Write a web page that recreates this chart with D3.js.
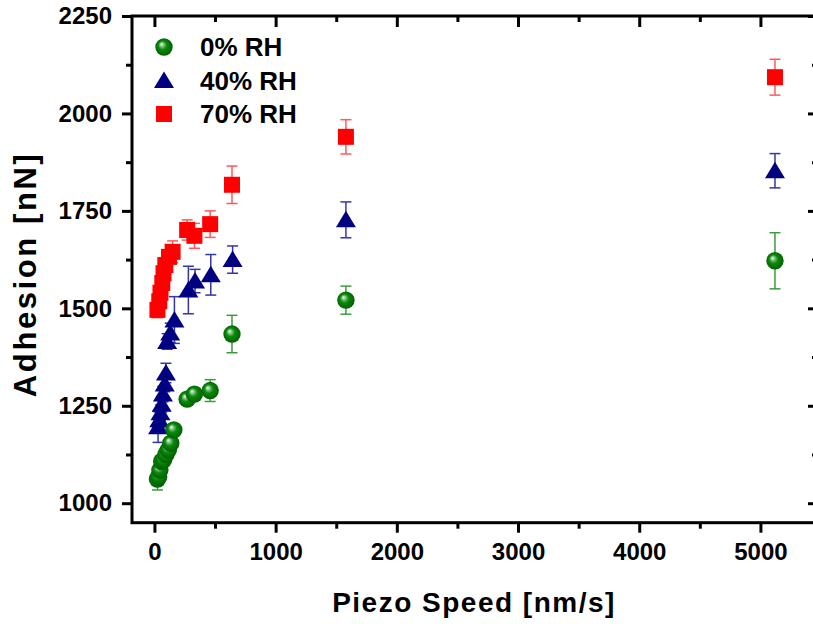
<!DOCTYPE html>
<html>
<head>
<meta charset="utf-8">
<script src="https://cdn.jsdelivr.net/npm/d3@7"></script>
<style>
    html, body { margin: 0; padding: 0; background: #fff; }
    svg { display: block; font-family: 'Liberation Sans', Arial, sans-serif; }
</style>
</head>
<body>
<svg id="chart" width="813" height="624"></svg>
<script>
// 0% RH
const speed0 = [25, 35, 45, 60, 75, 95, 115, 135, 160, 270, 330, 460, 640, 1580, 5120]
const adhesion0 = [1062, 1068, 1085, 1107, 1111, 1125, 1137, 1154, 1188, 1267, 1280, 1289, 1434, 1521, 1622]
const error0 = [28, 15, 15, 15, 15, 15, 15, 15, 15, 15, 15, 28, 48, 36, 72]

// 40% RH
const speed40 = [30, 40, 50, 60, 70, 85, 95, 105, 130, 165, 280, 335, 465, 645, 1580, 5120]
const adhesion40 = [1196, 1214, 1232, 1254, 1280, 1306, 1334, 1415, 1437, 1470, 1547, 1570, 1586, 1625, 1727, 1853]
const error40 = [40, 20, 20, 20, 20, 20, 25, 20, 25, 60, 61, 30, 52, 35, 46, 44]

// 70% RH
const speed70 = [25, 40, 50, 65, 75, 90, 120, 150, 270, 330, 460, 640, 1580, 5120]
const adhesion70 = [1496, 1518, 1540, 1565, 1590, 1611, 1632, 1645, 1701, 1686, 1716, 1817, 1940, 2093]
const error70 = [20, 15, 15, 15, 15, 15, 18, 28, 26, 32, 34, 48, 44, 46]

const legendLabels = ['0% RH', '40% RH', '70% RH']
const xTicks = [0, 1000, 2000, 3000, 4000, 5000]
const xMinor = [500, 1500, 2500, 3500, 4500]
const yTicks = [1000, 1250, 1500, 1750, 2000, 2250]
const yMinor = [1125, 1375, 1625, 1875, 2125]

let chart = {}
chart.svg = d3.select('#chart')
chart.left = 132
chart.right = 818
chart.top = 16
chart.bottom = 522.7

chart.x = d3.scaleLinear().domain([-185, 5475]).range([chart.left, chart.right])
chart.y = d3.scaleLinear().domain([950, 2250]).range([chart.bottom, chart.top])

const series = [
    {name: legendLabels[0], speed: speed0, value: adhesion0, err: error0, shape: 'sphere', fill: 'url(#sphere)', bar: '#3c9c3c'},
    {name: legendLabels[1], speed: speed40, value: adhesion40, err: error40, shape: 'triangle', fill: '#000080', bar: '#3535a5'},
    {name: legendLabels[2], speed: speed70, value: adhesion70, err: error70, shape: 'square', fill: '#ff0000', bar: '#ff5a5a'}
]

// gradient for the ball markers
let defs = chart.svg.append('defs')
let grad = defs.append('radialGradient').attr('id', 'sphere')
    .attr('cx', '50%').attr('cy', '50%').attr('r', '55%')
    .attr('fx', '35%').attr('fy', '33%')
grad.append('stop').attr('offset', '0%').attr('stop-color', '#ffffff')
grad.append('stop').attr('offset', '18%').attr('stop-color', '#8cc88c')
grad.append('stop').attr('offset', '45%').attr('stop-color', '#0a8a0a')
grad.append('stop').attr('offset', '100%').attr('stop-color', '#005a00')

function drawMarker(g, shape, fill, cx, cy) {
    if (shape === 'sphere') {
        g.append('circle').attr('cx', cx).attr('cy', cy).attr('r', 8.7).attr('fill', fill)
    } else if (shape === 'triangle') {
        g.append('path')
            .attr('d', `M${cx},${cy - 9}L${cx + 10},${cy + 7.5}L${cx - 10},${cy + 7.5}Z`)
            .attr('fill', fill)
    } else {
        g.append('rect').attr('x', cx - 8).attr('y', cy - 8).attr('width', 16).attr('height', 16)
            .attr('fill', fill)
    }
}

// axes
function styleAxis(g) {
    g.select('.domain').remove()
    g.selectAll('line').attr('stroke', '#000').attr('stroke-width', 3)
    g.selectAll('text').attr('fill', '#000').attr('font-size', 24).attr('font-weight', 'bold')
}

chart.svg.append('g').attr('transform', `translate(0,${chart.bottom})`)
    .call(d3.axisBottom(chart.x).tickValues(xTicks).tickSize(10).tickPadding(10).tickFormat(d3.format('d')))
    .call(styleAxis)
chart.svg.append('g').attr('transform', `translate(0,${chart.bottom})`)
    .call(d3.axisBottom(chart.x).tickValues(xMinor).tickSize(6).tickFormat(''))
    .call(styleAxis)
chart.svg.append('g').attr('transform', `translate(${chart.left},0)`)
    .call(d3.axisLeft(chart.y).tickValues(yTicks).tickSize(10).tickPadding(10).tickFormat(d3.format('d')))
    .call(styleAxis)
chart.svg.append('g').attr('transform', `translate(${chart.left},0)`)
    .call(d3.axisLeft(chart.y).tickValues(yMinor).tickSize(6).tickFormat(''))
    .call(styleAxis)
// mirrored ticks, pointing inwards
chart.svg.append('g').attr('transform', `translate(0,${chart.top})`)
    .call(d3.axisTop(chart.x).tickValues(xTicks).tickSize(-11).tickFormat(''))
    .call(styleAxis)
chart.svg.append('g').attr('transform', `translate(0,${chart.top})`)
    .call(d3.axisTop(chart.x).tickValues(xMinor).tickSize(-6).tickFormat(''))
    .call(styleAxis)
chart.svg.append('g').attr('transform', `translate(${chart.right},0)`)
    .call(d3.axisRight(chart.y).tickValues(yTicks).tickSize(-10).tickFormat(''))
    .call(styleAxis)
chart.svg.append('g').attr('transform', `translate(${chart.right},0)`)
    .call(d3.axisRight(chart.y).tickValues(yMinor).tickSize(-6).tickFormat(''))
    .call(styleAxis)

chart.svg.append('rect')
    .attr('x', chart.left).attr('y', chart.top)
    .attr('width', chart.right - chart.left).attr('height', chart.bottom - chart.top)
    .attr('fill', 'none').attr('stroke', '#000').attr('stroke-width', 3)

// titles
chart.svg.append('text')
    .attr('x', (chart.left + chart.right) / 2 - 1).attr('y', 612)
    .attr('text-anchor', 'middle').attr('font-size', 28).attr('font-weight', 'bold')
    .attr('letter-spacing', 1.5)
    .text('Piezo Speed [nm/s]')
chart.svg.append('text')
    .attr('transform', `translate(36,${(chart.top + chart.bottom) / 2 + 5}) rotate(-90)`)
    .attr('text-anchor', 'middle').attr('font-size', 31).attr('font-weight', 'bold')
    .attr('letter-spacing', 2.6)
    .text('Adhesion [nN]')

// data, drawn back to front: 70%, 40%, 0%
let plot = chart.svg.append('g')
for (let s of series.slice().reverse()) {
    let g = plot.append('g')
    for (let i = 0; i < s.speed.length; i++) {
        const cx = chart.x(s.speed[i])
        const yTop = chart.y(s.value[i] + s.err[i])
        const yBot = chart.y(s.value[i] - s.err[i])
        g.append('line').attr('x1', cx).attr('x2', cx).attr('y1', yTop).attr('y2', yBot)
            .attr('stroke', s.bar).attr('stroke-width', 1.5)
        for (let yy of [yTop, yBot]) {
            g.append('line').attr('x1', cx - 5.5).attr('x2', cx + 5.5).attr('y1', yy).attr('y2', yy)
                .attr('stroke', s.bar).attr('stroke-width', 1.5)
        }
    }
    for (let i = 0; i < s.speed.length; i++) {
        drawMarker(g, s.shape, s.fill, chart.x(s.speed[i]), chart.y(s.value[i]))
    }
}

// legend
let legend = chart.svg.append('g')
series.forEach((s, i) => {
    const ly = 47 + i * 33.5
    drawMarker(legend, s.shape, s.fill, 164, ly)
    legend.append('text').attr('x', 200).attr('y', ly).attr('dy', '0.36em')
        .attr('font-size', 26).attr('font-weight', 'bold').text(s.name)
})
</script>
</body>
</html>
